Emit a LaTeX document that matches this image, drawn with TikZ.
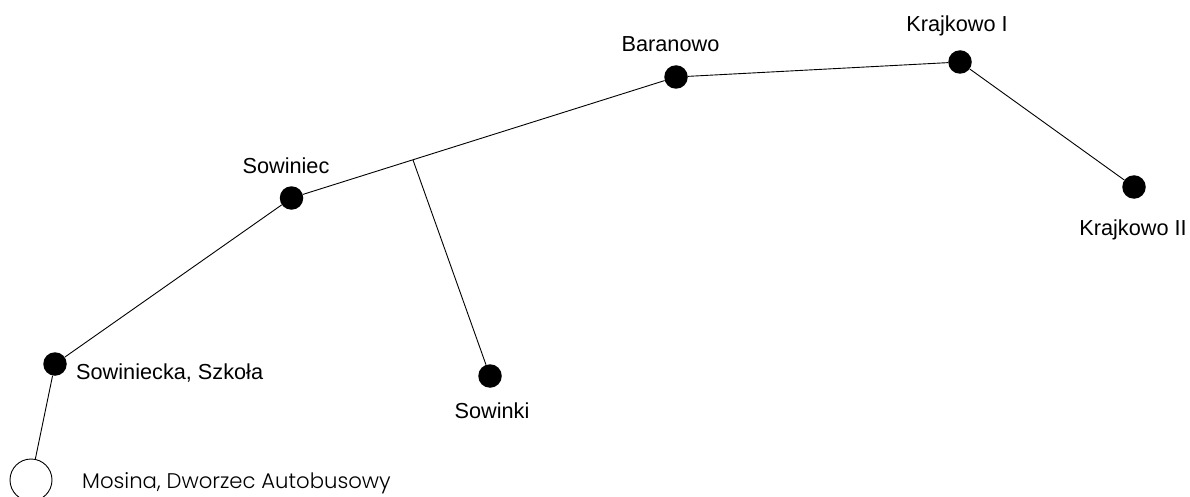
\documentclass[tikz,border=0pt]{standalone}
\usepackage{fontspec}
\setmainfont{Liberation Sans}
\newfontfamily\lightfont{Poppins Light}
\begin{document}
\begin{tikzpicture}[x=1pt,y=-1pt,
  stop/.style={circle,fill=black,draw=none,inner sep=0pt,minimum size=23.5},
  lab/.style={inner sep=0pt,anchor=base,font=\fontsize{21.7}{24}\selectfont},
  link/.style={draw=black,line width=0.9}]
\useasboundingbox (0,0) rectangle (1190,497);
\fill[white] (0,0) rectangle (1190,497);
\node[circle,draw=black,fill=white,line width=0.9,inner sep=0pt,minimum size=42] (m) at (31,480) {};
\node[stop] (a) at (55,364) {};
\node[stop] (b) at (291.5,198) {};
\node[stop] (c) at (676,77) {};
\node[stop] (d) at (960,62) {};
\node[stop] (e) at (1134,187) {};
\node[stop] (f) at (490,376) {};
\coordinate (j) at (413,160);
\draw[link] (m) -- (a);
\draw[link] (a) -- (b);
\draw[link] (b) -- (c);
\draw[link] (c) -- (d);
\draw[link] (d) -- (e);
\draw[link] (j) -- (f);
\node[lab,anchor=base west] (la) at (76,379) {Sowiniecka, Szkoła};
\node[lab] (lb) at (286,174) {Sowiniec};
\node[lab] (lc) at (670.5,52) {Baranowo};
\node[lab] (ld) at (957,32) {Krajkowo I};
\node[lab] (le) at (1133,235) {Krajkowo II};
\node[lab] (lf) at (492,418) {Sowinki};
\node[inner sep=0pt,anchor=base west,font=\lightfont\fontsize{21.2}{24}\selectfont] (lm) at (82,488) {Mosina, Dworzec Autobusowy};
\end{tikzpicture}
\end{document}
